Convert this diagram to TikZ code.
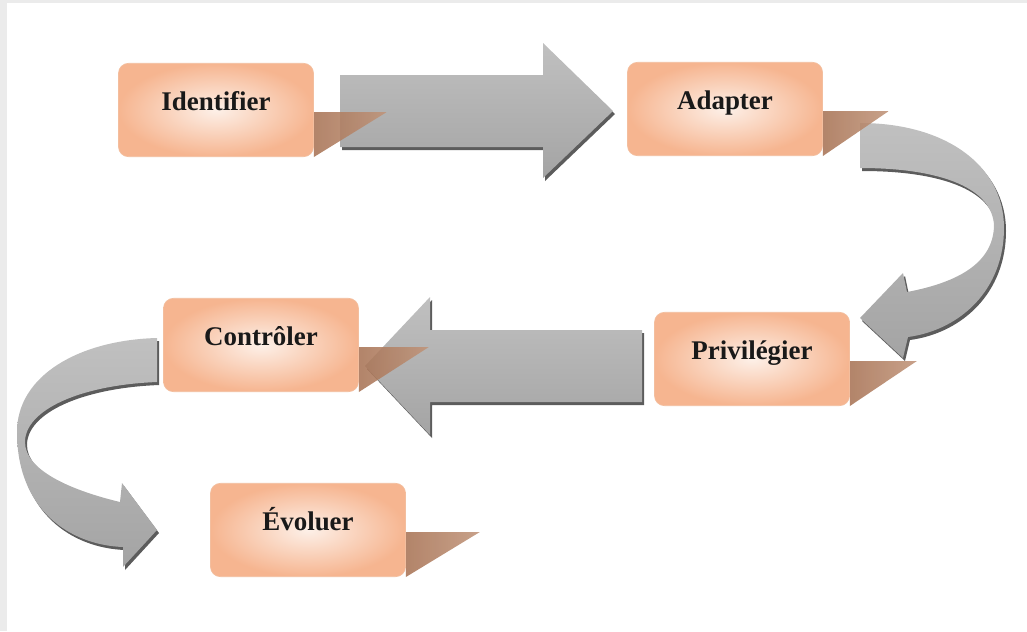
\documentclass[tikz,border=0pt]{standalone}
\usepackage{fontspec}
\setmainfont{Liberation Serif}
\usetikzlibrary{calc,backgrounds}

\definecolor{peachin}{HTML}{FDF0E8}
\definecolor{peachout}{HTML}{F6B590}
\definecolor{peachline}{HTML}{F3BE9E}
\definecolor{shadowA}{HTML}{A87355}
\definecolor{shadowB}{HTML}{C09479}
\definecolor{arrowtop}{HTML}{C0C0C0}
\definecolor{arrowbot}{HTML}{A4A4A4}
\definecolor{arrowedge}{HTML}{5C5C5C}
\definecolor{framegray}{HTML}{EBEBEB}

\tikzset{
  etape/.style={rectangle, rounded corners=8.5pt, draw=peachline, line width=0.6pt,
    inner color=peachin, outer color=peachout,
    minimum width=5.85cm, minimum height=2.8cm,
    font=\fontsize{23}{27}\selectfont\bfseries, text=black!90,
    text height=0.9em, text depth=0.9em},
  ombre/.style={left color=shadowA, right color=shadowB, fill opacity=0.88},
  fleche/.style={top color=arrowtop, bottom color=arrowbot,
    preaction={fill=arrowedge, transform canvas={xshift=0.06cm, yshift=-0.09cm}}}
}

\begin{document}
\begin{tikzpicture}[x=0.03cm, y=-0.03cm]
    \useasboundingbox (0,0) rectangle (1027,631);

    % Steps
    \node[etape] (id) at (216,110) {Identifier};
    \node[etape] (ad) at (725,109) {Adapter};
    \node[etape] (pr) at (752,359) {Privilégier};
    \node[etape] (co) at (261,345) {Contrôler};
    \node[etape] (ev) at (308,530) {Évoluer};

    \begin{scope}[on background layer]
        % Frame
        \fill[framegray] (0,0) rectangle (7,631);
        \fill[framegray] (0,0) rectangle (1027,3);

        % Arrows
        \path[fleche] (340,75) -- (543,75) -- (543,43) -- (613,111) -- (543,178)
            -- (543,147) -- (340,147) -- cycle;
        \path[fleche] (642,330) -- (430,330) -- (430,297) -- (365,366) -- (430,435)
            -- (430,402) -- (642,402) -- cycle;
        \path[fleche] (860,123) .. controls (945,123) and (1004,165) .. (1004,228)
            .. controls (1004,290) and (960,330) .. (908,337)
            -- (903,358) -- (860,318) -- (903,273) -- (907,292)
            .. controls (960,282) and (993,262) .. (994,226)
            .. controls (993,190) and (945,168) .. (860,168) -- cycle;
        \path[fleche] (157,338) .. controls (80,340) and (17,375) .. (17,432)
            .. controls (17,510) and (70,545) .. (123,547)
            -- (123,567) -- (157,530) -- (122,483) -- (120,502)
            .. controls (70,490) and (25,470) .. (25,442)
            .. controls (25,410) and (80,385) .. (157,382) -- cycle;

        % Shadows
        \path[ombre] ($(id.east)+(0,2)$) -- ++(73,0) -- (id.south east) -- cycle;
        \path[ombre] ($(ad.east)+(0,2)$) -- ++(66,0) -- (ad.south east) -- cycle;
        \path[ombre] ($(pr.east)+(0,2)$) -- ++(67,0) -- (pr.south east) -- cycle;
        \path[ombre] ($(co.east)+(0,2)$) -- ++(70,0) -- (co.south east) -- cycle;
        \path[ombre] ($(ev.east)+(0,2)$) -- ++(74,0) -- (ev.south east) -- cycle;
    \end{scope}
\end{tikzpicture}
\end{document}
